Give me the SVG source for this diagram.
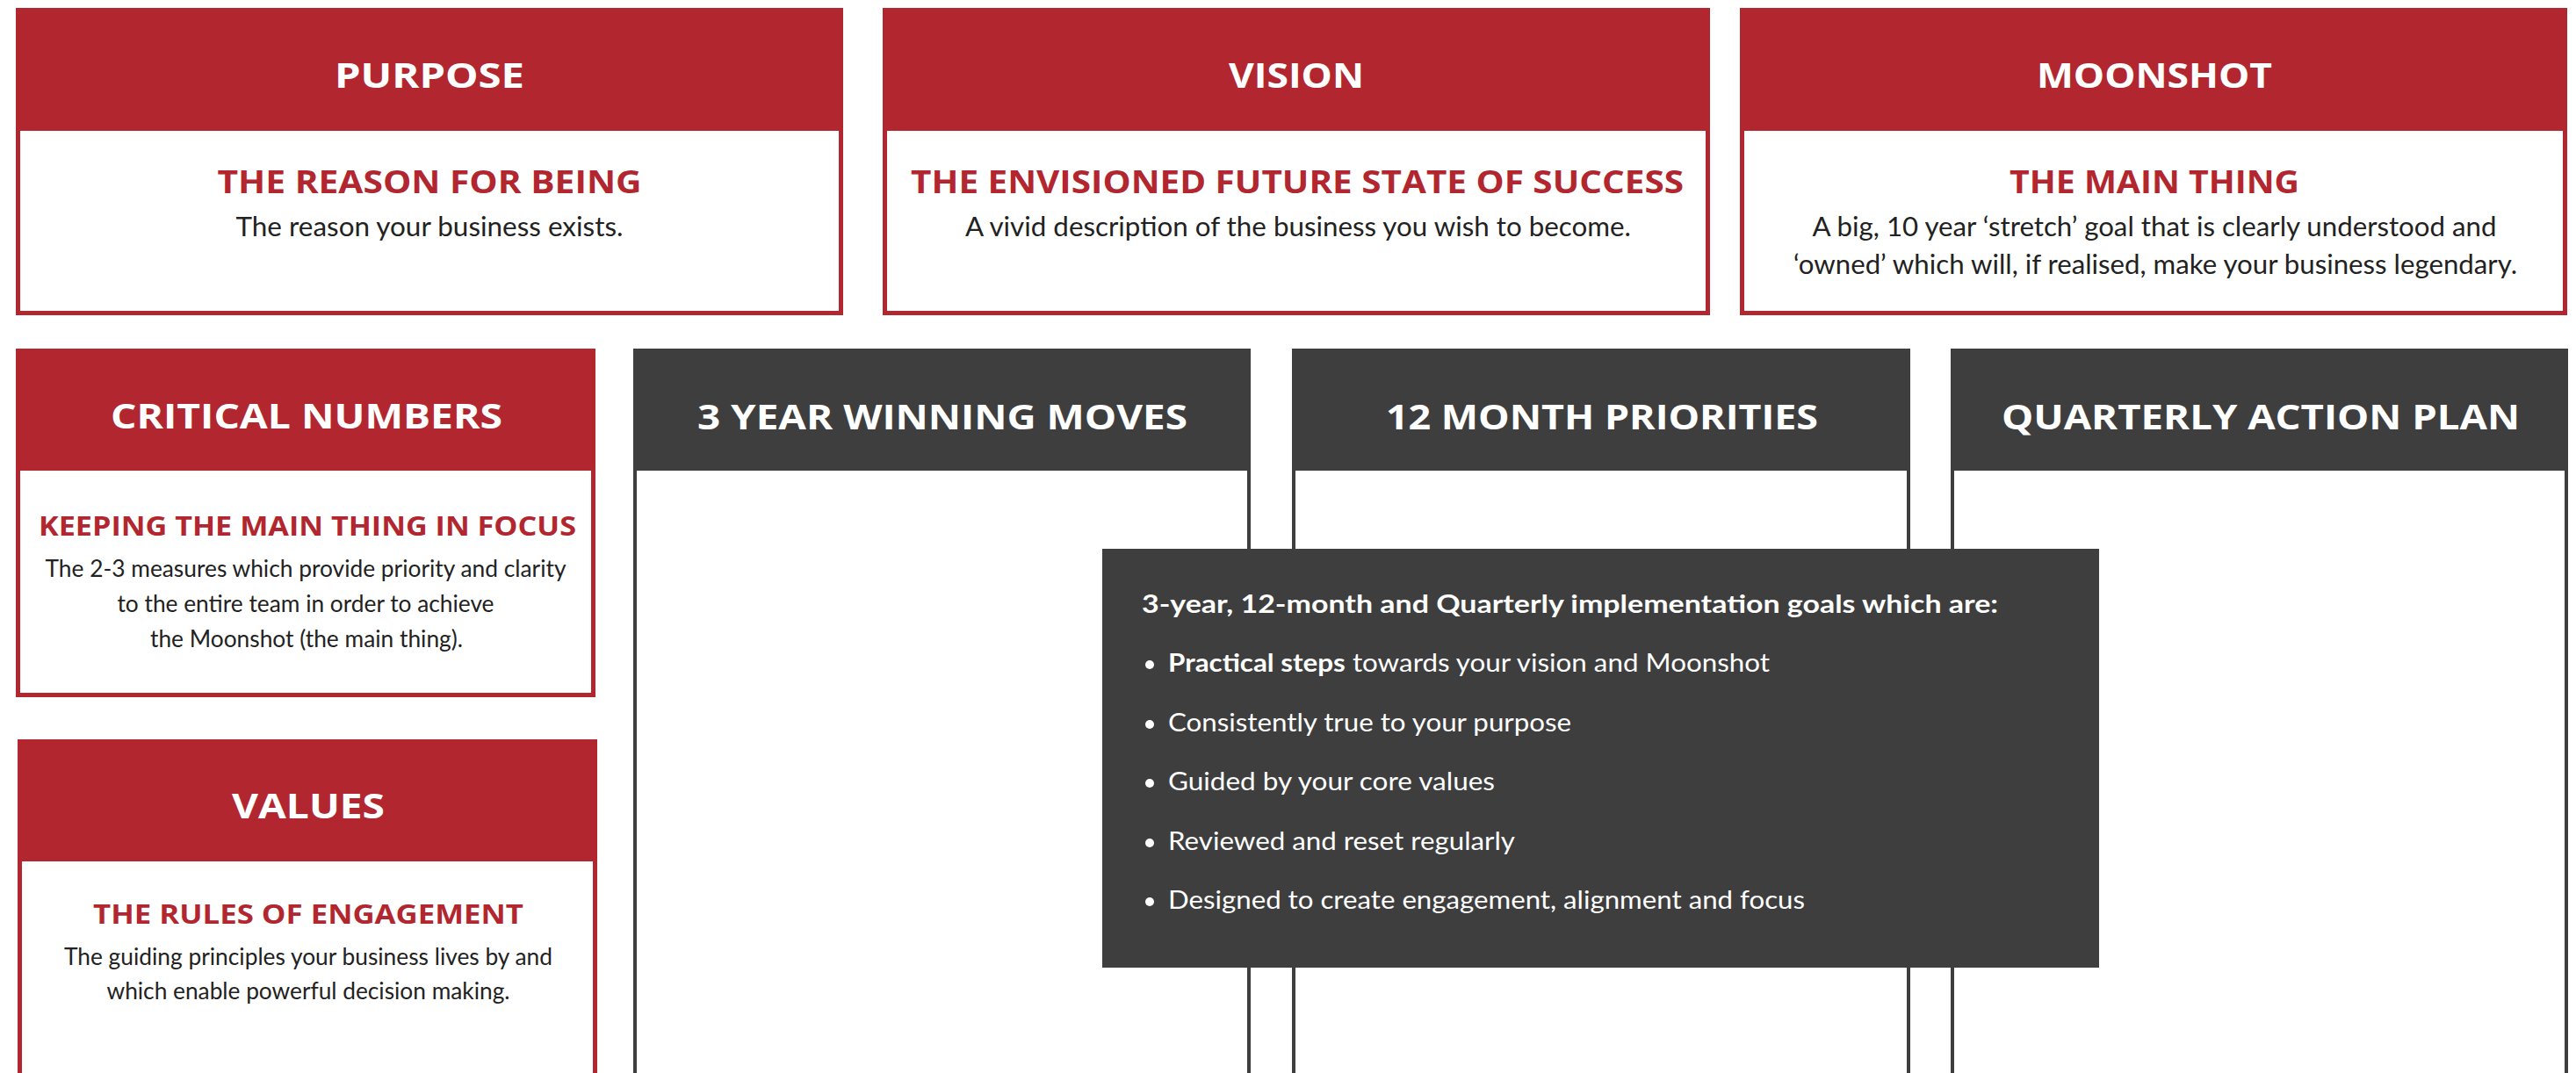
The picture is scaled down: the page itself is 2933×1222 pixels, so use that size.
<svg xmlns="http://www.w3.org/2000/svg" width="2933" height="1222" viewBox="0 0 2933 1222">
<style>
.bg{fill:#ffffff}
.redbody{fill:#ffffff;stroke:#b2272f;stroke-width:5}
.redhead{fill:#b2272f}
.darkbody{fill:#ffffff;stroke:#3e3e3e;stroke-width:4}
.darkhead{fill:#3e3e3e}
.title{font-family:"Open Sans","Liberation Sans",sans-serif;font-weight:700;font-size:39px;fill:#ffffff;text-anchor:middle}
.sub{font-family:"Open Sans","Liberation Sans",sans-serif;font-weight:700;fill:#b2272f;text-anchor:middle}
.desc{font-family:Lato,"Liberation Sans",sans-serif;fill:#222222;text-anchor:middle}
.ov{font-family:Lato,"Liberation Sans",sans-serif;fill:#ffffff;font-size:28px}
</style>
<rect class="bg" x="0" y="0" width="2933" height="1222"/>

<g id="purpose">
<rect class="redbody" x="20.5" y="11.5" width="937" height="345"/>
<rect class="redhead" x="18" y="9" width="942" height="140"/>
<text class="title" x="489" y="100" textLength="216" lengthAdjust="spacingAndGlyphs">PURPOSE</text>
<text class="sub" x="489" y="220" font-size="35" textLength="483" lengthAdjust="spacingAndGlyphs">THE REASON FOR BEING</text>
<text class="desc" x="489" y="269" font-size="30" textLength="441" lengthAdjust="spacingAndGlyphs">The reason your business exists.</text>
</g>

<g id="vision">
<rect class="redbody" x="1007.5" y="11.5" width="937" height="345"/>
<rect class="redhead" x="1005" y="9" width="942" height="140"/>
<text class="title" x="1476" y="100" textLength="154" lengthAdjust="spacingAndGlyphs">VISION</text>
<text class="sub" x="1477" y="220" font-size="35" textLength="880" lengthAdjust="spacingAndGlyphs">THE ENVISIONED FUTURE STATE OF SUCCESS</text>
<text class="desc" x="1478" y="269" font-size="30" textLength="758" lengthAdjust="spacingAndGlyphs">A vivid description of the business you wish to become.</text>
</g>

<g id="moonshot">
<rect class="redbody" x="1983.5" y="11.5" width="937" height="345"/>
<rect class="redhead" x="1981" y="9" width="942" height="140"/>
<text class="title" x="2453" y="100" textLength="268" lengthAdjust="spacingAndGlyphs">MOONSHOT</text>
<text class="sub" x="2453" y="220" font-size="35" textLength="330" lengthAdjust="spacingAndGlyphs">THE MAIN THING</text>
<text class="desc" x="2453" y="269" font-size="30" textLength="779" lengthAdjust="spacingAndGlyphs">A big, 10 year ‘stretch’ goal that is clearly understood and</text>
<text class="desc" x="2454" y="312" font-size="30" textLength="824" lengthAdjust="spacingAndGlyphs">‘owned’ which will, if realised, make your business legendary.</text>
</g>

<g id="critical-numbers">
<rect class="redbody" x="20.5" y="399.5" width="655" height="392"/>
<rect class="redhead" x="18" y="397" width="660" height="139"/>
<text class="title" x="349" y="488" textLength="446" lengthAdjust="spacingAndGlyphs">CRITICAL NUMBERS</text>
<text class="sub" x="350" y="610" font-size="30" textLength="612" lengthAdjust="spacingAndGlyphs">KEEPING THE MAIN THING IN FOCUS</text>
<text class="desc" x="348" y="657" font-size="26" textLength="593" lengthAdjust="spacingAndGlyphs">The 2-3 measures which provide priority and clarity</text>
<text class="desc" x="348" y="697" font-size="26" textLength="429" lengthAdjust="spacingAndGlyphs">to the entire team in order to achieve</text>
<text class="desc" x="349" y="737" font-size="26" textLength="356" lengthAdjust="spacingAndGlyphs">the Moonshot (the main thing).</text>
</g>

<g id="values">
<rect class="redbody" x="22.5" y="844.5" width="655" height="420"/>
<rect class="redhead" x="20" y="842" width="660" height="139"/>
<text class="title" x="351" y="932" textLength="174" lengthAdjust="spacingAndGlyphs">VALUES</text>
<text class="sub" x="351" y="1052" font-size="30" textLength="490" lengthAdjust="spacingAndGlyphs">THE RULES OF ENGAGEMENT</text>
<text class="desc" x="351" y="1099" font-size="26" textLength="556" lengthAdjust="spacingAndGlyphs">The guiding principles your business lives by and</text>
<text class="desc" x="351" y="1138" font-size="26" textLength="459" lengthAdjust="spacingAndGlyphs">which enable powerful decision making.</text>
</g>

<g id="three-year">
<rect class="darkbody" x="723" y="399" width="699" height="860"/>
<rect class="darkhead" x="721" y="397" width="703" height="139"/>
<text class="title" x="1073" y="489" textLength="558" lengthAdjust="spacingAndGlyphs">3 YEAR WINNING MOVES</text>
</g>

<g id="twelve-month">
<rect class="darkbody" x="1473" y="399" width="700" height="860"/>
<rect class="darkhead" x="1471" y="397" width="704" height="139"/>
<text class="title" x="1824" y="489" textLength="492" lengthAdjust="spacingAndGlyphs">12 MONTH PRIORITIES</text>
</g>

<g id="quarterly">
<rect class="darkbody" x="2223" y="399" width="699" height="860"/>
<rect class="darkhead" x="2221" y="397" width="703" height="139"/>
<text class="title" x="2574" y="489" textLength="590" lengthAdjust="spacingAndGlyphs">QUARTERLY ACTION PLAN</text>
</g>

<g id="goals-overlay">
<rect class="darkhead" x="1255" y="625" width="1135" height="477"/>
<text class="ov" x="1300" y="698" font-weight="700" textLength="975" lengthAdjust="spacingAndGlyphs">3-year, 12-month and Quarterly implementation goals which are:</text>
<circle cx="1309" cy="757" r="5" fill="#ffffff"/>
<text class="ov" x="1330" y="765" textLength="685" lengthAdjust="spacingAndGlyphs"><tspan font-weight="700">Practical steps</tspan> towards your vision and Moonshot</text>
<circle cx="1309" cy="825" r="5" fill="#ffffff"/>
<text class="ov" x="1330" y="833" textLength="459" lengthAdjust="spacingAndGlyphs">Consistently true to your purpose</text>
<circle cx="1309" cy="892" r="5" fill="#ffffff"/>
<text class="ov" x="1330" y="900" textLength="372" lengthAdjust="spacingAndGlyphs">Guided by your core values</text>
<circle cx="1309" cy="960" r="5" fill="#ffffff"/>
<text class="ov" x="1330" y="968" textLength="395" lengthAdjust="spacingAndGlyphs">Reviewed and reset regularly</text>
<circle cx="1309" cy="1027" r="5" fill="#ffffff"/>
<text class="ov" x="1330" y="1035" textLength="725" lengthAdjust="spacingAndGlyphs">Designed to create engagement, alignment and focus</text>
</g>

<g id="connectors"></g>
</svg>
